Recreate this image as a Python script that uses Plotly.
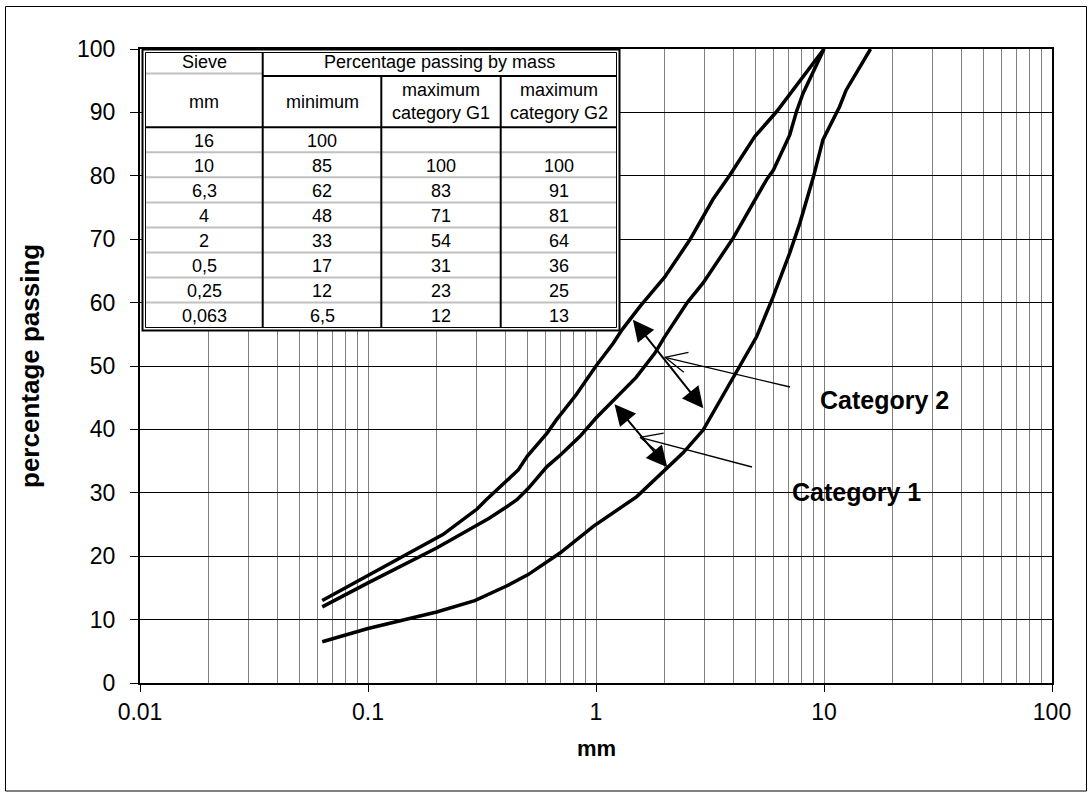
import math
import plotly.graph_objects as go

# ---------------- data ----------------
# Table: sieve sizes (mm) and percentage passing by mass
sieve_mm = [16, 10, 6.3, 4, 2, 0.5, 0.25, 0.063]
min_pass = [100, 85, 62, 48, 33, 17, 12, 6.5]
g1_max = [None, 100, 83, 71, 54, 31, 23, 12]
g2_max = [None, 100, 91, 81, 64, 36, 25, 13]

# Grading curves
g2_x = [0.063, 0.1, 0.2, 0.213, 0.3, 0.33, 0.456, 0.5, 0.61, 0.67, 0.82, 1.0, 1.19, 1.3,
        1.56, 2.0, 2.58, 3.26, 3.86, 4.97, 6.19, 8.09, 10]
g2_y = [13.0, 16.9, 22.9, 23.4, 27.4, 28.9, 33.6, 35.8, 39.4, 41.5, 45.5, 50.0, 53.6, 55.7,
        59.4, 64.0, 69.9, 76.3, 80.1, 86.2, 90.1, 95.6, 100]

g1_x = [0.063, 0.1, 0.2, 0.3, 0.34, 0.406, 0.45, 0.505, 0.608, 0.7, 0.851, 1.0, 1.19, 1.5,
        1.81, 2.0, 2.5, 2.95, 4.0, 4.97, 5.6, 6.0, 7.07, 7.57, 8.09, 10]
g1_y = [12.0, 15.8, 21.3, 24.8, 26.0, 27.8, 28.9, 30.7, 34.1, 36.0, 38.9, 41.8, 44.6, 48.2,
        52.0, 54.6, 59.9, 63.1, 70.2, 76.2, 79.4, 80.9, 86.4, 90.1, 93.0, 100]

mn_x = [0.063, 0.1, 0.2, 0.294, 0.405, 0.504, 0.695, 0.973, 1.51, 2.04, 2.41, 2.95, 4.13,
        5.06, 5.98, 7.07, 7.83, 8.95, 9.9, 11.7, 12.5, 16]
mn_y = [6.5, 8.6, 11.2, 13.0, 15.3, 17.1, 20.5, 24.7, 29.4, 33.9, 36.3, 39.9, 48.9,
        54.6, 60.9, 67.8, 72.5, 79.6, 85.7, 90.9, 93.5, 100]

x_tickvals = [0.01, 0.1, 1, 10, 100]
x_ticktext = ["0.01", "0.1", "1", "10", "100"]
y_tickvals = [0, 10, 20, 30, 40, 50, 60, 70, 80, 90, 100]
minor_x = [m * d for d in (0.01, 0.1, 1, 10) for m in range(2, 10)]

# ---------------- geometry helpers ----------------
W, H = 1092, 807
L, R, T, B = 140, 40, 49, 124
PW = W - L - R
PH = H - T - B
BOTTOM = H - B

def px(x):
    return (x - L) / PW

def py(y):
    return (BOTTOM - y) / PH

FONT = "Liberation Sans, Arial, sans-serif"

def fmt(v):
    if v is None:
        return ""
    return ("%g" % v).replace(".", ",")

fig = go.Figure()
for xs, ys in [(g2_x, g2_y), (g1_x, g1_y), (mn_x, mn_y)]:
    fig.add_trace(go.Scatter(x=xs, y=ys, mode="lines",
                             line=dict(color="black", width=3.5),
                             showlegend=False, hoverinfo="skip"))

shapes = []
annotations = []

# ---------------- table ----------------
tx0, tx1, ty0, ty1 = 142.5, 619.5, 49.5, 330.5
ix0, ix1, iy0, iy1 = 145.5, 616.5, 52.5, 327.5
cols = [ix0, 262.7, 381.3, 500.7, ix1]
hdr1 = 75.0
hdr2 = 127.3
row_h = (iy1 - hdr2) / len(sieve_mm)

def rect(x0, y0, x1, y1, **kw):
    shapes.append(dict(type="rect", xref="paper", yref="paper",
                       x0=px(x0), x1=px(x1), y0=py(y1), y1=py(y0), layer="above", **kw))

def seg(x0, y0, x1, y1, color, width):
    shapes.append(dict(type="line", xref="paper", yref="paper",
                       x0=px(x0), x1=px(x1), y0=py(y0), y1=py(y1), layer="above",
                       line=dict(color=color, width=width)))

rect(tx0, ty0, tx1, ty1, fillcolor="white", line=dict(color="black", width=2))
# grey row separators
seg(ix0, hdr1 - 1.5, cols[1], hdr1 - 1.5, "#c0c0c0", 2)
for i in range(1, len(sieve_mm)):
    yy = hdr2 + i * row_h
    seg(ix0, yy, ix1, yy, "#c0c0c0", 2)
# black separators
seg(cols[1], hdr1 + 1, ix1, hdr1 + 1, "black", 2)
seg(ix0, hdr2, ix1, hdr2, "black", 2)
seg(cols[1], iy0, cols[1], iy1, "black", 2)
seg(cols[2], hdr1 + 1, cols[2], iy1, "black", 2)
seg(cols[3], hdr1 + 1, cols[3], iy1, "black", 2)
rect(ix0, iy0, ix1, iy1, line=dict(color="black", width=1))

def ttext(x, y, s, size=18, bold=False, **kw):
    annotations.append(dict(xref="paper", yref="paper", x=px(x), y=py(y), text=s,
                            showarrow=False, xanchor="center", yanchor="middle",
                            font=dict(family=FONT, size=size, color="black",
                                      weight="bold" if bold else "normal"), **kw))

cc = [(cols[i] + cols[i + 1]) / 2 for i in range(4)]
ttext(cc[0], 62.5, "Sieve")
ttext((cols[1] + ix1) / 2, 62.5, "Percentage passing by mass")
ttext(cc[0], 101.5, "mm")
ttext(cc[1], 101.5, "minimum")
ttext(cc[2], 101.5, "maximum<br>category G1")
ttext(cc[3], 101.5, "maximum<br>category G2")
for i in range(len(sieve_mm)):
    yc = hdr2 + (i + 0.5) * row_h + 1
    ttext(cc[0], yc, fmt(sieve_mm[i]))
    ttext(cc[1], yc, fmt(min_pass[i]))
    ttext(cc[2], yc, fmt(g1_max[i]))
    ttext(cc[3], yc, fmt(g2_max[i]))

# ---------------- labels ----------------
ttext(884, 400, "Category 2", size=25, bold=True)
ttext(856, 492, "Category 1", size=25, bold=True)
ttext(30, 366, "percentage passing", size=26, bold=True, textangle=-90)
ttext(596, 748, "mm", size=22, bold=True)

# ---------------- arrows ----------------
def double_arrow(head, tail):
    annotations.append(dict(xref="paper", yref="paper", x=px(head[0]), y=py(head[1]),
                            ax=tail[0] - head[0], ay=tail[1] - head[1], text="",
                            showarrow=True, arrowcolor="black", standoff=0, startstandoff=0,
                            arrowside="end+start", arrowhead=2, startarrowhead=2,
                            arrowsize=2.1, startarrowsize=2.1, arrowwidth=2))

def open_arrow(head, tail, blen=24.0, ang=25.0, width=1.3):
    seg(tail[0], tail[1], head[0], head[1], "black", width)
    dx, dy = tail[0] - head[0], tail[1] - head[1]
    n = math.hypot(dx, dy)
    ux, uy = dx / n, dy / n
    for s in (1, -1):
        a = math.radians(ang) * s
        bx = ux * math.cos(a) - uy * math.sin(a)
        by = ux * math.sin(a) + uy * math.cos(a)
        seg(head[0], head[1], head[0] + blen * bx, head[1] + blen * by, "black", width)

double_arrow((703.3, 408.3), (631.7, 318.3))
double_arrow((667.3, 467.3), (613.3, 402.7))
open_arrow((665, 357.3), (790, 387))
open_arrow((640, 437.3), (752, 467))

# outer frame
shapes.append(dict(type="rect", xref="paper", yref="paper",
                   x0=px(5.5), x1=px(1086.5), y0=py(791), y1=py(6.5),
                   line=dict(color="black", width=1), layer="below"))

fig.update_layout(
    width=W, height=H, autosize=False,
    margin=dict(l=L, r=R, t=T, b=B, pad=0),
    paper_bgcolor="white", plot_bgcolor="white",
    font=dict(family=FONT, color="black"),
    shapes=shapes, annotations=annotations,
    xaxis=dict(type="log", range=[-2, 2], tickvals=x_tickvals, ticktext=x_ticktext,
               ticks="outside", ticklen=7, tickwidth=1, tickcolor="black",
               showgrid=True, gridcolor="#808080", gridwidth=1,
               minor=dict(tickvals=minor_x, showgrid=True, gridcolor="#808080",
                          gridwidth=1, ticks=""),
               showline=True, linecolor="black", linewidth=2, mirror=True,
               zeroline=False, tickfont=dict(size=23, color="black", family=FONT),
               ticklabelstandoff=0),
    yaxis=dict(range=[0, 100], tickvals=y_tickvals,
               ticks="outside", ticklen=8, tickwidth=1, tickcolor="black",
               showgrid=True, gridcolor="black", gridwidth=1,
               showline=True, linecolor="black", linewidth=2, mirror=True,
               zeroline=False, tickfont=dict(size=23, color="black", family=FONT),
               ticklabelstandoff=10),
)

fig.write_html("out.html", config={"displayModeBar": False},
               post_script="document.body.style.margin='0';document.body.style.overflow='hidden';")
